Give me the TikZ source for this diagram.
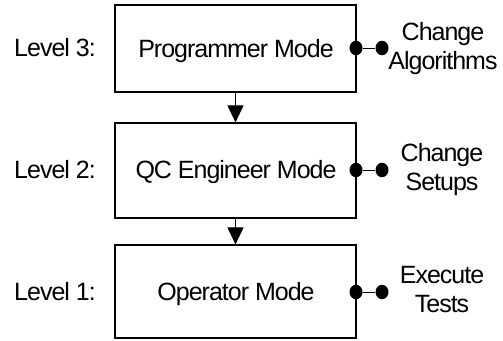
\documentclass[tikz,border=0pt]{standalone}
\usepackage{fontspec}
\setmainfont[LetterSpace=-4]{Liberation Sans}
\usetikzlibrary{arrows.meta,shapes.geometric}
\begin{document}
\begin{tikzpicture}[x=1pt,y=-1pt,
  every node/.style={font=\fontsize{25pt}{29pt}\selectfont},
  modebox/.style={draw=black,line width=1.2pt,minimum width=241pt,inner sep=0pt},
  lvl/.style={anchor=base,inner sep=0pt},
  side/.style={align=center,inner sep=0pt},
  dot/.style={ellipse,fill=black,draw=none,minimum width=13pt,minimum height=14.5pt,inner sep=0pt},
  flow/.style={line width=1pt,-{Triangle[width=16pt,length=17pt]}},
  link/.style={line width=1pt}]
\useasboundingbox (0,0) rectangle (503,340);
% boxes
\node[modebox,minimum height=87pt] (b3) at (235.5,48.5) {};
\node[modebox,minimum height=95pt] (b2) at (235.5,170.5) {};
\node[modebox,minimum height=93pt] (b1) at (235.5,291.5) {};
% box texts
\node[lvl] (t3) at (236,57) {Programmer Mode};
\node[lvl] (t2) at (236,178) {QC Engineer Mode};
\node[lvl] (t1) at (236,300) {Operator Mode};
% level labels
\node[lvl] (l3) at (55,56) {Level 3:};
\node[lvl] (l2) at (55,178) {Level 2:};
\node[lvl] (l1) at (55,300) {Level 1:};
% arrows
\draw[flow] (b3.south) -- (b2.north);
\draw[flow] (b2.south) -- (b1.north);
% dots
\node[dot] (d3a) at (356,48) {};
\node[dot] (d3b) at (382,48) {};
\node[dot] (d2a) at (356,170) {};
\node[dot] (d2b) at (382,170) {};
\node[dot] (d1a) at (356,292) {};
\node[dot] (d1b) at (382,292) {};
\draw[link] (d3a) -- (d3b);
\draw[link] (d2a) -- (d2b);
\draw[link] (d1a) -- (d1b);
% side labels
\node[side] (s3) at (443,49) {Change\\Algorithms};
\node[side] (s2) at (442,170) {Change\\Setups};
\node[side] (s1) at (442,290) {Execute\\Tests};
\end{tikzpicture}
\end{document}
